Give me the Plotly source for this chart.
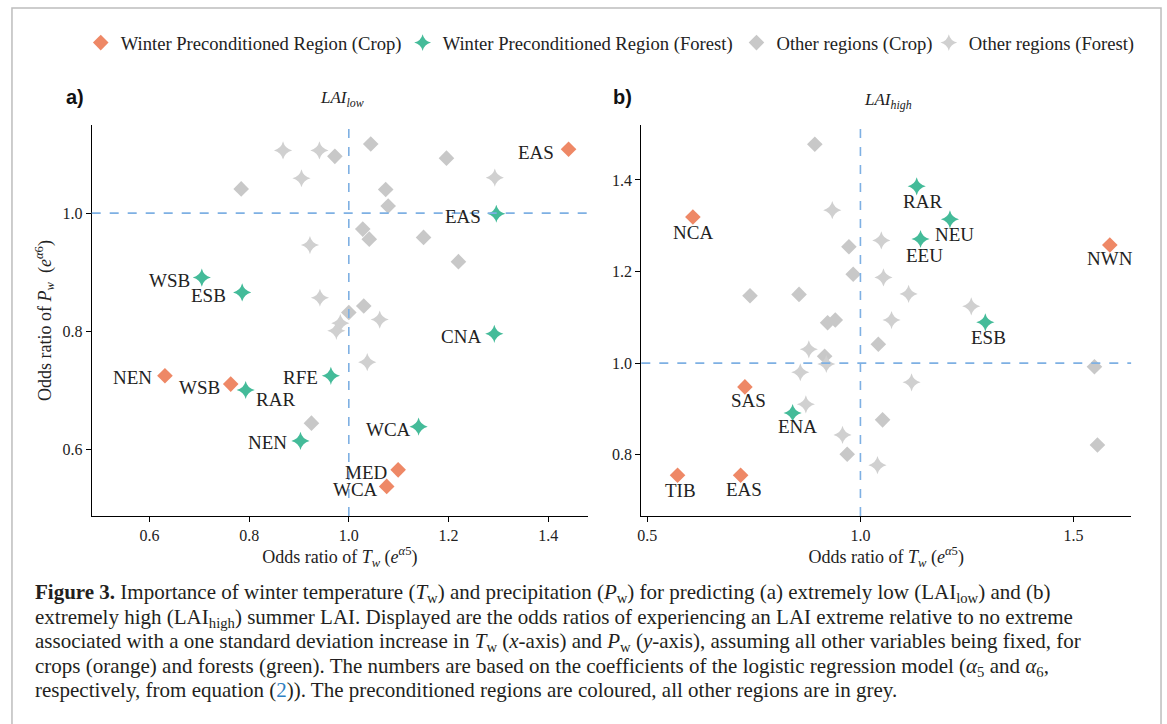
import plotly.graph_objects as go

W, H = 1167, 724

# ---------------- data ----------------
# Panel a (LAI_low)
a_crop_other_x = [0.972, 1.044, 1.196, 0.784, 1.074, 1.079, 1.028, 1.041, 1.150, 1.220, 1.030, 1.000, 0.925]
a_crop_other_y = [1.096, 1.117, 1.093, 1.041, 1.040, 1.012, 0.973, 0.956, 0.959, 0.918, 0.843, 0.832, 0.645]
a_forest_other_x = [0.868, 0.941, 0.905, 1.293, 0.922, 0.942, 1.062, 0.983, 0.975, 1.037]
a_forest_other_y = [1.106, 1.106, 1.059, 1.060, 0.946, 0.857, 0.820, 0.814, 0.801, 0.748]
a_crop_pre_lab = ["EAS", "NEN", "WSB", "MED", "WCA"]
a_crop_pre_x = [1.441, 0.631, 0.763, 1.099, 1.076]
a_crop_pre_y = [1.108, 0.725, 0.711, 0.566, 0.538]
a_forest_pre_lab = ["EAS", "WSB", "ESB", "CNA", "RFE", "RAR", "WCA", "NEN"]
a_forest_pre_x = [1.296, 0.705, 0.786, 1.292, 0.964, 0.793, 1.140, 0.903]
a_forest_pre_y = [0.999, 0.891, 0.866, 0.796, 0.725, 0.701, 0.639, 0.615]

# Panel b (LAI_high)
b_crop_other_x = [0.893, 0.973, 0.983, 0.741, 0.856, 0.941, 0.923, 1.042, 0.916, 1.549, 1.052, 0.969, 1.556]
b_crop_other_y = [1.478, 1.254, 1.194, 1.147, 1.150, 1.094, 1.088, 1.041, 1.015, 0.992, 0.876, 0.801, 0.821]
b_forest_other_x = [0.934, 1.049, 1.054, 1.113, 1.260, 1.073, 0.879, 0.920, 0.859, 1.120, 0.872, 0.958, 1.040]
b_forest_other_y = [1.334, 1.268, 1.187, 1.151, 1.124, 1.094, 1.030, 0.998, 0.980, 0.958, 0.910, 0.843, 0.777]
b_crop_pre_lab = ["NCA", "NWN", "SAS", "TIB", "EAS"]
b_crop_pre_x = [0.607, 1.585, 0.729, 0.571, 0.719]
b_crop_pre_y = [1.319, 1.258, 0.948, 0.755, 0.755]
b_forest_pre_lab = ["RAR", "NEU", "EEU", "ESB", "ENA"]
b_forest_pre_x = [1.132, 1.210, 1.141, 1.293, 0.841]
b_forest_pre_y = [1.386, 1.314, 1.271, 1.089, 0.891]

a_xticks = [0.6, 0.8, 1.0, 1.2, 1.4]
a_yticks = [0.6, 0.8, 1.0]
b_xticks = [0.5, 1.0, 1.5]
b_yticks = [0.8, 1.0, 1.2, 1.4]

legend_names = ["Winter Preconditioned Region (Crop)", "Winter Preconditioned Region (Forest)",
                "Other regions (Crop)", "Other regions (Forest)"]

caption_lines = [
    "<b>Figure 3.</b> Importance of winter temperature (<i>T</i><sub>w</sub>) and precipitation "
    "(<i>P</i><sub>w</sub>) for predicting (a) extremely low (LAI<sub>low</sub>) and (b)",
    "extremely high (LAI<sub>high</sub>) summer LAI. Displayed are the odds ratios of experiencing "
    "an LAI extreme relative to no extreme",
    "associated with a one standard deviation increase in <i>T</i><sub>w</sub> (<i>x</i>-axis) and "
    "<i>P</i><sub>w</sub> (<i>y</i>-axis), assuming all other variables being fixed, for",
    "crops (orange) and forests (green). The numbers are based on the coefficients of the logistic "
    "regression model (<i>α</i><sub>5</sub> and <i>α</i><sub>6</sub>,",
    "respectively, from equation (<span style='color:#2f7fc1'>2</span>)). The preconditioned regions "
    "are coloured, all other regions are in grey.",
]

# ---------------- styles ----------------
ORANGE = "#ee8866"
GREEN = "#44bb99"
GREY = "#c8c8c8"
GREY_STAR = "#d0d0d0"
BLUE = "#7eb0e3"
SERIF = "Liberation Serif"
TXT = "#222222"
D_SIZE = 12
S_SIZE = 13

# legend symbol x positions (pixels) for the four legend entries
legend_px = [77, 400, 735, 928]

# label offsets (pixels): panel a -> (xanchor, xshift, yshift)
a_crop_off = {"EAS": ("right", -13, -3), "NEN": ("right", -11, -2), "WSB": ("right", -9, -3),
              "MED": ("right", -9, -3), "WCA": ("right", -7, -3)}
a_forest_off = {"EAS": ("right", -13, -3), "WSB": ("right", -10, -3), "ESB": ("right", -14, -3),
                "CNA": ("right", -11, -3), "RFE": ("right", -11, -2), "RAR": ("left", 8, -9),
                "WCA": ("right", -6, -3), "NEN": ("right", -11, -2)}
b_crop_off = {"NCA": (0, -15), "NWN": (0, -14), "SAS": (4, -14), "TIB": (3, -15), "EAS": (3, -14)}
b_forest_off = {"RAR": (6, -15), "NEU": (5, -15), "EEU": (4, -16), "ESB": (3, -15), "ENA": (5, -14)}

fig = go.Figure()
legend_ids = ["legend", "legend2", "legend3", "legend4"]

def add_pts(x, y, xa, ya, color, symbol, size, idx, show):
    fig.add_trace(go.Scatter(
        x=x, y=y, xaxis=xa, yaxis=ya, mode="markers", name=legend_names[idx], showlegend=show,
        legend=legend_ids[idx],
        marker=dict(symbol=symbol, size=size, color=color, line=dict(width=0)),
        hoverinfo="skip"))

# grey first (underneath)
add_pts(a_crop_other_x, a_crop_other_y, "x", "y", GREY, "diamond", D_SIZE, 2, True)
add_pts(a_forest_other_x, a_forest_other_y, "x", "y", GREY_STAR, "star-diamond", S_SIZE, 3, True)
add_pts(b_crop_other_x, b_crop_other_y, "x2", "y2", GREY, "diamond", D_SIZE, 2, False)
add_pts(b_forest_other_x, b_forest_other_y, "x2", "y2", GREY_STAR, "star-diamond", S_SIZE, 3, False)
add_pts(a_crop_pre_x, a_crop_pre_y, "x", "y", ORANGE, "diamond", D_SIZE, 0, True)
add_pts(a_forest_pre_x, a_forest_pre_y, "x", "y", GREEN, "star-diamond", S_SIZE, 1, True)
add_pts(b_crop_pre_x, b_crop_pre_y, "x2", "y2", ORANGE, "diamond", D_SIZE, 0, False)
add_pts(b_forest_pre_x, b_forest_pre_y, "x2", "y2", GREEN, "star-diamond", S_SIZE, 1, False)

annotations = []
lab_font = dict(family=SERIF, size=19, color=TXT)
for labs, xs, ys, off in [(a_crop_pre_lab, a_crop_pre_x, a_crop_pre_y, a_crop_off),
                          (a_forest_pre_lab, a_forest_pre_x, a_forest_pre_y, a_forest_off)]:
    for l, xv, yv in zip(labs, xs, ys):
        anc, dx, dy = off[l]
        annotations.append(dict(x=xv, y=yv, xref="x", yref="y", text=l, showarrow=False,
                                xanchor=anc, yanchor="middle", xshift=dx, yshift=dy, font=lab_font))
for labs, xs, ys, off in [(b_crop_pre_lab, b_crop_pre_x, b_crop_pre_y, b_crop_off),
                          (b_forest_pre_lab, b_forest_pre_x, b_forest_pre_y, b_forest_off)]:
    for l, xv, yv in zip(labs, xs, ys):
        dx, dy = off[l]
        annotations.append(dict(x=xv, y=yv, xref="x2", yref="y2", text=l, showarrow=False,
                                xanchor="center", yanchor="middle", xshift=dx, yshift=dy, font=lab_font))

# panel titles and letters
annotations += [
    dict(x=339 / W, y=1 - 99 / H, xref="paper", yref="paper", showarrow=False,
         xanchor="center", yanchor="middle",
         text="<i>LAI<sub>low</sub></i>", font=dict(family=SERIF, size=17, color=TXT)),
    dict(x=887 / W, y=1 - 101 / H, xref="paper", yref="paper", showarrow=False,
         xanchor="center", yanchor="middle",
         text="<i>LAI<sub>high</sub></i>", font=dict(family=SERIF, size=17, color=TXT)),
    dict(x=71 / W, y=1 - 97 / H, xref="paper", yref="paper", showarrow=False,
         xanchor="center", yanchor="middle",
         text="<b>a)</b>", font=dict(family="Liberation Sans", size=20, color="#111111")),
    dict(x=621 / W, y=1 - 97 / H, xref="paper", yref="paper", showarrow=False,
         xanchor="center", yanchor="middle",
         text="<b>b)</b>", font=dict(family="Liberation Sans", size=20, color="#111111")),
]

for i, line in enumerate(caption_lines):
    top = 578 + i * 24.5
    annotations.append(dict(x=29 / W, y=1 - top / H, xref="paper", yref="paper", showarrow=False,
                            xanchor="left", yanchor="top", align="left", text=line,
                            font=dict(family=SERIF, size=21, color="#231f20")))

shapes = [
    dict(type="line", xref="x", yref="y domain", x0=1, x1=1, y0=0, y1=1,
         line=dict(color=BLUE, width=1.6, dash="dash")),
    dict(type="line", xref="x domain", yref="y", x0=0, x1=1, y0=1, y1=1,
         line=dict(color=BLUE, width=1.6, dash="dash")),
    dict(type="line", xref="x2", yref="y2 domain", x0=1, x1=1, y0=0, y1=1,
         line=dict(color=BLUE, width=1.6, dash="dash")),
    dict(type="line", xref="x2 domain", yref="y2", x0=0, x1=1, y0=1, y1=1,
         line=dict(color=BLUE, width=1.6, dash="dash")),
    dict(type="rect", xref="paper", yref="paper", x0=8 / W, x1=1161 / W, y0=-0.2, y1=1 - 8 / H,
         line=dict(color="#bdbdbd", width=1.5), layer="below"),
]

ax_common = dict(showline=True, linecolor="black", linewidth=1.2, ticks="outside", ticklen=5,
                 tickwidth=1.2, tickcolor="black", showgrid=False, zeroline=False,
                 tickfont=dict(family=SERIF, size=16, color=TXT), mirror=False)
ttl_font = dict(family=SERIF, size=18, color=TXT)
xtitle = "Odds ratio of <i>T<sub>w</sub></i> (<i>e</i><sup><i>α</i>5</sup>)"
ytitle = "Odds ratio of <i>P<sub>w</sub></i>  (<i>e</i><sup><i>α</i>6</sup>)"

leg_common = dict(orientation="h", xanchor="left", y=1 - 43 / H, yanchor="middle",
                  font=dict(family=SERIF, size=18.6, color=TXT), bgcolor="rgba(0,0,0,0)",
                  itemsizing="constant")

yd = [1 - 516 / H, 1 - 125 / H]
fig.update_layout(
    width=W, height=H, margin=dict(l=0, r=0, t=0, b=0),
    paper_bgcolor="white", plot_bgcolor="white",
    xaxis=dict(domain=[88 / W, 586 / W], range=[0.484, 1.48], tickvals=a_xticks,
               ticktext=[f"{v:.1f}" for v in a_xticks], anchor="y",
               title=dict(text=xtitle, font=ttl_font, standoff=4), **ax_common),
    yaxis=dict(domain=yd, range=[0.488, 1.149], tickvals=a_yticks,
               ticktext=[f"{v:.1f}" for v in a_yticks], anchor="x",
               title=dict(text=ytitle, font=ttl_font, standoff=6), **ax_common),
    xaxis2=dict(domain=[639.5 / W, 1131 / W], range=[0.486, 1.635], tickvals=b_xticks,
                ticktext=[f"{v:.1f}" for v in b_xticks], anchor="y2",
                title=dict(text=xtitle, font=ttl_font, standoff=4), **ax_common),
    yaxis2=dict(domain=yd, range=[0.666, 1.52], tickvals=b_yticks,
                ticktext=[f"{v:.1f}" for v in b_yticks], anchor="x2", **ax_common),
    annotations=annotations, shapes=shapes, showlegend=True,
)
for lid, pxl in zip(legend_ids, legend_px):
    fig.update_layout({lid: dict(x=pxl / W, **leg_common)})

fig.write_html("out.html")
